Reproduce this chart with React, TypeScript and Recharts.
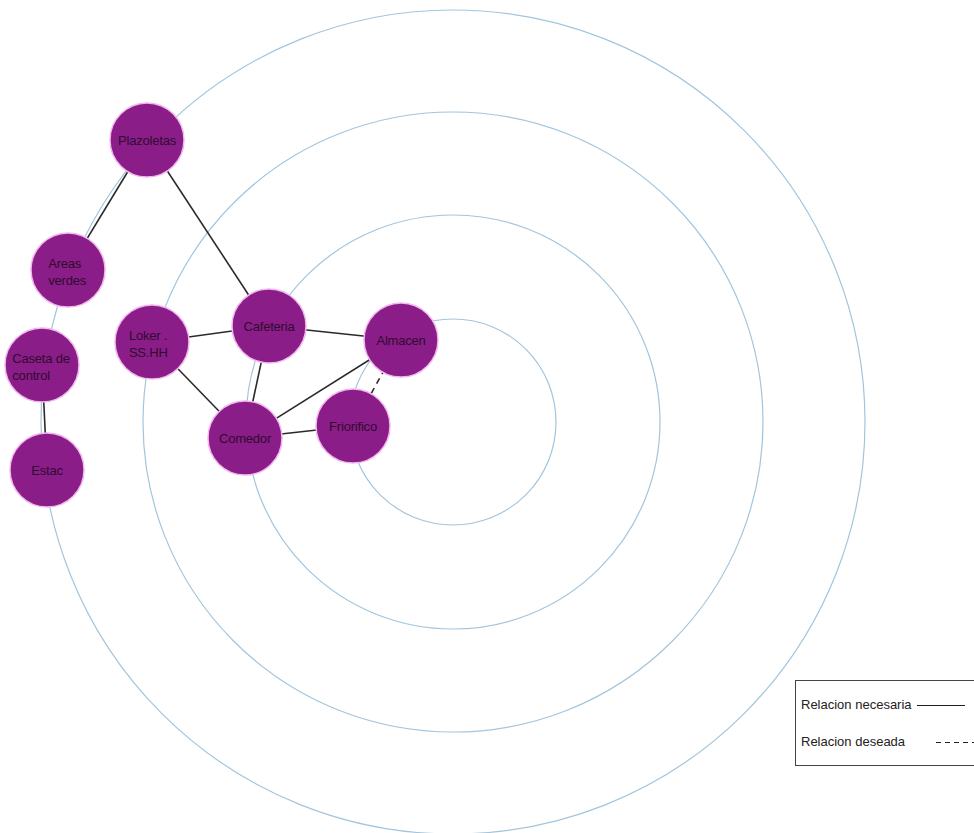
import React from 'react';
import { ScatterChart, Scatter, XAxis, YAxis, Legend } from 'recharts';

// Concentric zone rings (chart units = pixels)
const ringCenterX = 453;
const ringCenterY = 422;
const ringRadii = [103, 207, 310, 412];

// Nodes
const nodeNames = ['Plazoletas', 'Areas verdes', 'Caseta de control', 'Estac', 'Loker . SS.HH', 'Cafeteria', 'Almacen', 'Comedor', 'Friorifico'];
const nodeLines = [['Plazoletas'], ['Areas', 'verdes'], ['Caseta de', 'control'], ['Estac'], ['Loker .', 'SS.HH'], ['Cafeteria'], ['Almacen'], ['Comedor'], ['Friorifico']];
const nodeX = [147, 68, 42, 47, 152, 269, 401, 245, 353];
const nodeY = [140, 270, 365, 470, 342, 326, 340, 438, 426];
const nodeRadius = 37;

// Relations
const necessaryFrom = ['Plazoletas', 'Plazoletas', 'Caseta de control', 'Loker . SS.HH', 'Loker . SS.HH', 'Cafeteria', 'Cafeteria', 'Comedor', 'Comedor'];
const necessaryTo = ['Areas verdes', 'Cafeteria', 'Estac', 'Cafeteria', 'Comedor', 'Almacen', 'Comedor', 'Almacen', 'Friorifico'];
const desiredFrom = ['Almacen'];
const desiredTo = ['Friorifico'];

const legendLabels = ['Relacion necesaria', 'Relacion deseada'];

const FONT = '"Liberation Sans", Arial, sans-serif';

const ringData = ringRadii.map((r) => ({ x: ringCenterX, y: ringCenterY, r }));
const nodeData = nodeNames.map((name, i) => ({ name, x: nodeX[i], y: nodeY[i], lines: nodeLines[i] }));
const pt = (name: string) => {
  const i = nodeNames.indexOf(name);
  return { x: nodeX[i], y: nodeY[i] };
};
const edges = [
  ...necessaryFrom.map((f, i) => ({ a: pt(f), b: pt(necessaryTo[i]), dashed: false })),
  ...desiredFrom.map((f, i) => ({ a: pt(f), b: pt(desiredTo[i]), dashed: true })),
];

const RingShape = (props: any) => {
  const { cx, cy, payload } = props;
  return <circle cx={cx} cy={cy} r={payload.r} fill="none" stroke="#a3c5dc" strokeWidth={1.2} />;
};

const NodeShape = (props: any) => {
  const { cx, cy, payload } = props;
  const lines: string[] = payload.lines;
  const multi = lines.length > 1;
  const maxLen = Math.max(...lines.map((l) => l.length));
  const left = cx - maxLen * 3.3;
  return (
    <g>
      <circle cx={cx} cy={cy} r={nodeRadius} fill="#8b1d88" stroke="#f2b6ef" strokeWidth={1.5} />
      {lines.map((l, i) => (
        <text
          key={i}
          x={multi ? left : cx}
          y={multi ? cy - 7 + i * 17 : cy}
          textAnchor={multi ? 'start' : 'middle'}
          dominantBaseline="central"
          fontFamily={FONT}
          fontSize={13}
          letterSpacing={-0.2}
          fill="#2e0c2e"
        >
          {l}
        </text>
      ))}
    </g>
  );
};

const EmptyShape = () => <g />;

const LegendBox = () => (
  <div
    style={{
      position: 'relative',
      width: 190,
      height: 86,
      border: '1px solid #444',
      boxSizing: 'border-box',
      background: '#fff',
      fontFamily: FONT,
      fontSize: 13,
      color: '#222',
    }}
  >
    <div style={{ position: 'absolute', left: 5, top: 16, lineHeight: '16px', whiteSpace: 'nowrap' }}>{legendLabels[0]}</div>
    <div style={{ position: 'absolute', left: 5, top: 53, lineHeight: '16px', whiteSpace: 'nowrap' }}>{legendLabels[1]}</div>
    <svg width={190} height={86} style={{ position: 'absolute', left: -1, top: -1 }}>
      <line x1={122} y1={25.5} x2={170} y2={25.5} stroke="#222" strokeWidth={1} />
      <line x1={141} y1={62.5} x2={190} y2={62.5} stroke="#222" strokeWidth={1} strokeDasharray="5,4" />
    </svg>
  </div>
);

export default function App() {
  return (
    <div style={{ position: 'absolute', left: 0, top: 0, background: '#fff' }}>
      <ScatterChart width={974} height={833} margin={{ top: 0, right: 0, bottom: 0, left: 0 }}>
        <XAxis type="number" dataKey="x" domain={[0, 974]} hide allowDataOverflow />
        <YAxis type="number" dataKey="y" domain={[0, 833]} reversed hide allowDataOverflow />
        <Scatter data={ringData} shape={RingShape} isAnimationActive={false} legendType="none" />
        {edges.map((e, i) => (
          <Scatter
            key={`edge-${i}`}
            data={[e.a, e.b]}
            line={{ stroke: '#2a2a2a', strokeWidth: 1.6, strokeDasharray: e.dashed ? '6 5' : undefined }}
            shape={EmptyShape}
            isAnimationActive={false}
            legendType="none"
          />
        ))}
        <Scatter data={nodeData} shape={NodeShape} isAnimationActive={false} legendType="none" />
        <Legend
          layout="horizontal"
          verticalAlign="middle"
          align="center"
          content={LegendBox}
          wrapperStyle={{ position: 'absolute', left: 795, top: 680, width: 190 }}
        />
      </ScatterChart>
    </div>
  );
}
